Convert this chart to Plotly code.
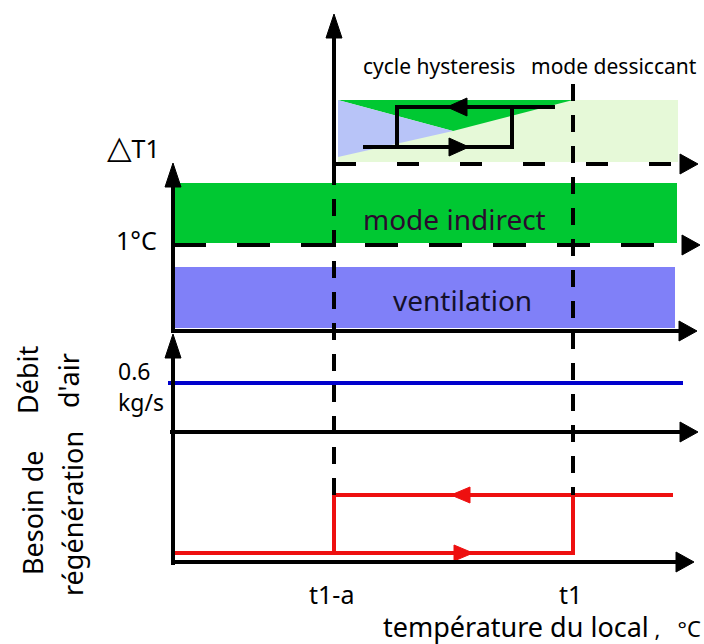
import plotly.graph_objects as go

# ---- schematic values (drawing units = picture grid) ----
threshold_labels = ["t1-a", "t1"]
threshold_x = [334, 573]

# top panel (hysteresis of ΔT1)
hyst_band_x = [338, 678]
hyst_band_y = [100, 162]
green_tri_x = [338, 573, 453]
green_tri_y = [100, 100, 131]
blue_tri_x = [338, 453, 338]
blue_tri_y = [100, 131, 157]
loop_up_x = [363, 512, 512]
loop_up_y = [147, 147, 107]
loop_down_x = [555, 397, 397]
loop_down_y = [107, 107, 147]

# middle panel (modes)
indirect_y = [183, 243]
ventil_y = [267, 328]
mode_x = [175, 677]
delta_level_y = 245

# air flow
flow_level_y = 383
flow_x = [168, 683]

# regeneration need (hysteresis)
regen_on_x = [175, 573, 573]
regen_on_y = [553, 553, 495]
regen_off_x = [673, 334, 334]
regen_off_y = [495, 495, 553]

FONT = "Noto Sans"
fig = go.Figure()
shapes = []

def line(x0, y0, x1, y1, color="black", width=4, dash="solid"):
    shapes.append(dict(type="line", x0=x0, y0=y0, x1=x1, y1=y1,
                       line=dict(color=color, width=width, dash=dash), layer="above"))

def tri(pts, color="black"):
    p = "M " + " L ".join(f"{x},{y}" for x, y in pts) + " Z"
    shapes.append(dict(type="path", path=p, fillcolor=color,
                       line=dict(color=color, width=1), layer="above"))

def rect(x0, y0, x1, y1, color):
    shapes.append(dict(type="rect", x0=x0, y0=y0, x1=x1, y1=y1,
                       fillcolor=color, line=dict(width=0), layer="below"))

def arrow_right(x, y, color="black"):
    tri([(x - 18, y - 10), (x, y), (x - 18, y + 10)], color)

def arrow_left(x, y, color="black", L=18, h=8):
    tri([(x + L, y - h), (x, y), (x + L, y + h)], color)

def arrow_right_small(x, y, color="black", L=18, h=8):
    tri([(x - L, y - h), (x, y), (x - L, y + h)], color)

def arrow_up(x, y, color="black"):
    tri([(x - 8, y + 24), (x, y), (x + 8, y + 24)], color)

# ---- top panel ----
rect(hyst_band_x[0], hyst_band_y[0], hyst_band_x[1], hyst_band_y[1], "#e6f9d8")
fig.add_trace(go.Scatter(x=green_tri_x + [green_tri_x[0]], y=green_tri_y + [green_tri_y[0]],
                         fill="toself", fillcolor="#00c832", mode="none", hoverinfo="skip"))
fig.add_trace(go.Scatter(x=blue_tri_x + [blue_tri_x[0]], y=blue_tri_y + [blue_tri_y[0]],
                         fill="toself", fillcolor="#b8c4f8", mode="none", hoverinfo="skip"))
fig.add_trace(go.Scatter(x=loop_up_x, y=loop_up_y, mode="lines",
                         line=dict(color="black", width=4), hoverinfo="skip"))
fig.add_trace(go.Scatter(x=loop_down_x, y=loop_down_y, mode="lines",
                         line=dict(color="black", width=4), hoverinfo="skip"))
arrow_left(447, loop_down_y[0], L=20, h=9)
arrow_right_small(469, loop_up_y[0], L=20, h=9)
line(threshold_x[0], 168, threshold_x[0], 30)
arrow_up(threshold_x[0], 14)
line(threshold_x[0], hyst_band_y[1] + 2, 682, hyst_band_y[1] + 2, dash="22px,41px")
arrow_right(698, hyst_band_y[1] + 2)

# ---- middle panel ----
rect(mode_x[0], indirect_y[0], mode_x[1], indirect_y[1], "#00c832")
rect(mode_x[0], ventil_y[0], mode_x[1] - 2, ventil_y[1], "#8080f8")
line(173, 333, 173, 180)
arrow_up(173, 163)
line(173, delta_level_y, 682, delta_level_y, dash="33px,31px")
arrow_right(700, delta_level_y)
line(173, 331, 682, 331)
arrow_right(697, 331)

# ---- flow panel ----
fig.add_trace(go.Scatter(x=flow_x, y=[flow_level_y] * 2, mode="lines",
                         line=dict(color="#0000cc", width=4), hoverinfo="skip"))
line(173, 565, 173, 350)
arrow_up(173, 334)
line(170, 432, 682, 432)
arrow_right(698, 432)

# ---- regeneration ----
fig.add_trace(go.Scatter(x=regen_on_x, y=regen_on_y, mode="lines",
                         line=dict(color="#ee1010", width=4), hoverinfo="skip"))
fig.add_trace(go.Scatter(x=regen_off_x, y=regen_off_y, mode="lines",
                         line=dict(color="#ee1010", width=4), hoverinfo="skip"))
arrow_left(451, regen_off_y[0], color="#ee1010", L=19, h=8)
arrow_right_small(473, regen_on_y[0], color="#ee1010", L=19, h=8)
line(173, 562, 680, 562)
arrow_right(694, 562)

# threshold dashed verticals
line(threshold_x[0], 168, threshold_x[0], regen_off_y[0], dash="17px,14px")
line(threshold_x[1], 84, threshold_x[1], regen_off_y[0], dash="17px,14px")

# ---- texts ----
ann = []
def text(x, y, s, size, color="black", xanchor="center", angle=0, align="center", family=FONT):
    ann.append(dict(x=x, y=y, text=s, showarrow=False, xanchor=xanchor, yanchor="middle",
                    textangle=angle, align=align,
                    font=dict(family=family, size=size, color=color)))

text(439, 66, "cycle hysteresis", 21)
text(614, 66, "mode dessiccant", 21)
text(133, 147, "<span style='font-family:DejaVu Sans;font-size:32px'>△</span>T1", 25)
text(159, 240, "1°C", 25, xanchor="right")
text(454, 219, "mode indirect", 28, color="#2a0a2e")
text(462, 300, "ventilation", 28, color="#14102a")
text(116, 371, "0.6", 23, xanchor="left")
text(116, 402, "kg/s", 23, xanchor="left")
text(27, 380, "Débit", 27, angle=-90)
text(68, 381, "d'air", 27, angle=-90)
text(32, 513, "Besoin de", 27, angle=-90)
text(72, 514, "régénération", 27, angle=-90)
for lab, xv in zip(threshold_labels, threshold_x):
    text(xv - 3, 594, lab, 25)
text(703, 626, "température du local<span style='font-size:22px'>&nbsp;,&nbsp;&nbsp;&nbsp;°C</span>",
     27, xanchor="right")

fig.update_layout(
    width=704, height=644, margin=dict(l=0, r=0, t=0, b=0),
    paper_bgcolor="white", plot_bgcolor="white", showlegend=False,
    xaxis=dict(range=[0, 704], visible=False, fixedrange=True),
    yaxis=dict(range=[644, 0], visible=False, fixedrange=True),
    shapes=shapes, annotations=ann,
)
fig.write_html("out.html", config={"displayModeBar": False},
               post_script="document.body.style.margin='0px';document.body.style.overflow='hidden';")
